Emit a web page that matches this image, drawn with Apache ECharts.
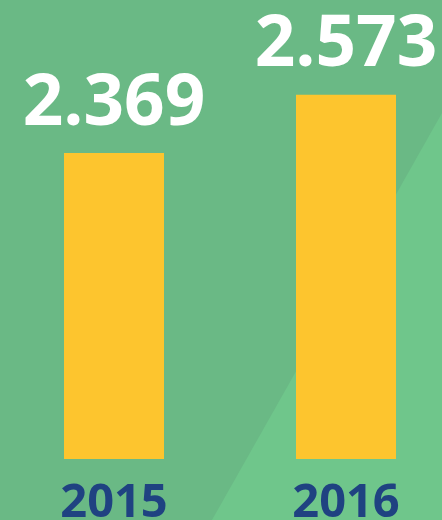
<!DOCTYPE html>
<html>
<head>
<meta charset="utf-8">
<script src="https://cdn.jsdelivr.net/npm/echarts@6/dist/echarts.min.js"></script>
<style>
  html, body { margin: 0; padding: 0; background: #6ab985; }
  #main { width: 442px; height: 520px; }
</style>
</head>
<body>
<div id="main"></div>
<script>
var years = ['2015', '2016']
var values = [2.369, 2.573]

var chart = echarts.init(document.getElementById('main'))
chart.setOption({
  backgroundColor: '#6ab985',
  animation: false,
  graphic: [{
    type: 'polygon',
    silent: true,
    z: -10,
    shape: { points: [[442, 113], [442, 520], [212, 520]] },
    style: { fill: '#6fc68b' }
  }],
  grid: { left: 114, right: 96, top: 0, bottom: 61, outerBoundsMode: 'none' },
  xAxis: {
    type: 'category',
    data: years,
    boundaryGap: false,
    axisLine: { show: false },
    axisTick: { show: false },
    axisLabel: {
      margin: 21,
      color: '#1f4281',
      fontFamily: 'Open Sans',
      fontWeight: 'bold',
      fontSize: 47
    }
  },
  yAxis: {
    type: 'value',
    min: 1.3,
    max: 2.904,
    show: false,
    splitLine: { show: false }
  },
  series: [{
    type: 'bar',
    data: values,
    barWidth: 100,
    itemStyle: { color: '#fdc52e' },
    label: {
      show: true,
      position: 'top',
      distance: 13,
      color: '#ffffff',
      fontFamily: 'Open Sans',
      fontWeight: 'bold',
      fontSize: 71,
      formatter: function (p) { return p.value.toFixed(3) }
    }
  }]
})
</script>
</body>
</html>
